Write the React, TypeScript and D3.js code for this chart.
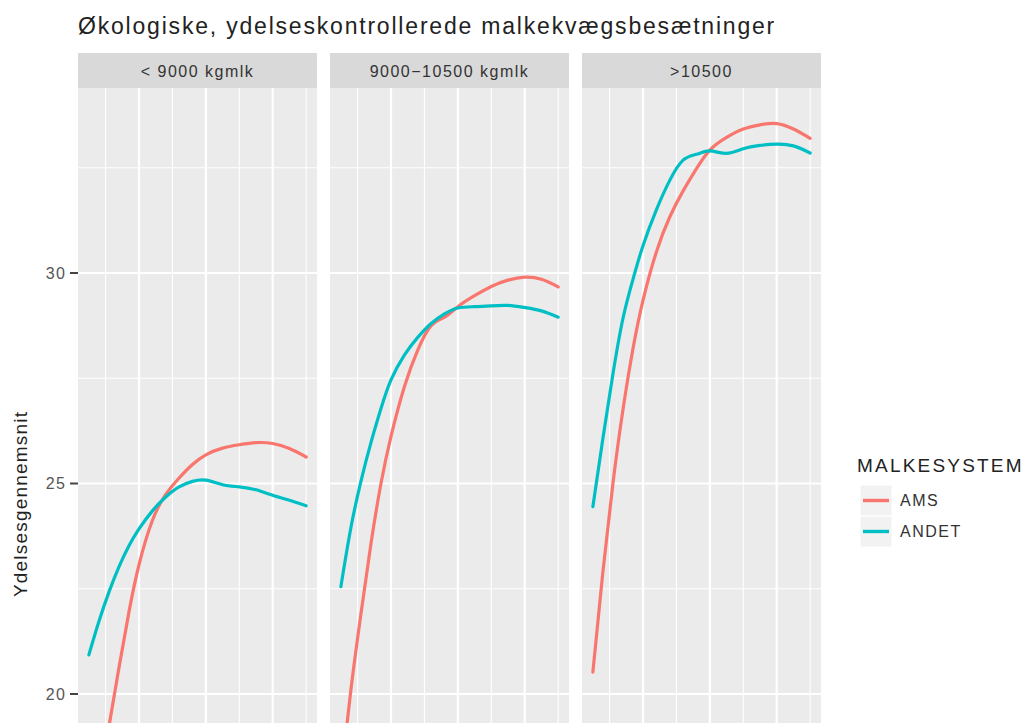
import { useEffect, useRef } from "react";
import * as d3 from "d3";

const title = "Økologiske, ydelseskontrollerede malkekvægsbesætninger";
const panels = ["< 9000 kgmlk", "9000\u221210500 kgmlk", ">10500"];
const systems = ["AMS", "ANDET"];
const colours = ["#F8766D", "#00BFC4"];

// x values along the lactation (axis itself is cut off in the picture)
const days = [25, 40, 55, 70, 85, 100, 120, 140, 160, 180, 200, 225, 250, 275, 300, 325, 350];

const amsLow = [16.3, 17.75, 19.22, 20.62, 21.95, 23.07, 24.12, 24.74, 25.13, 25.45, 25.68, 25.84, 25.92, 25.97, 25.95, 25.83, 25.63];
const andetLow = [20.93, 21.72, 22.42, 23.02, 23.52, 23.92, 24.35, 24.68, 24.92, 25.05, 25.08, 24.97, 24.92, 24.85, 24.72, 24.6, 24.47];
const amsMid = [18.0, 20.1, 21.9, 23.57, 25.0, 26.12, 27.3, 28.17, 28.75, 28.95, 29.2, 29.46, 29.68, 29.83, 29.9, 29.85, 29.67];
const andetMid = [22.55, 23.95, 25.05, 25.97, 26.78, 27.46, 28.05, 28.47, 28.8, 29.03, 29.17, 29.2, 29.22, 29.23, 29.18, 29.1, 28.95];
const amsHigh = [20.52, 22.9, 25.0, 26.75, 28.2, 29.35, 30.5, 31.33, 31.95, 32.48, 32.92, 33.22, 33.42, 33.52, 33.55, 33.42, 33.2];
const andetHigh = [24.45, 26.07, 27.6, 28.92, 29.85, 30.65, 31.5, 32.2, 32.68, 32.82, 32.9, 32.84, 32.95, 33.03, 33.06, 33.02, 32.85];

const yTicks = [20, 25, 30];
const yMinor = [17.5, 22.5, 27.5, 32.5];
const xMajor = [100, 200, 300];
const xMinor = [50, 150, 250, 350];

const font = "'Liberation Sans', Arial, sans-serif";

export default function App() {
    const ref = useRef<SVGSVGElement>(null);

    useEffect(() => {
        const svg = d3.select(ref.current);
        svg.selectAll("*").remove();

        const W = 1032, H = 723;
        const top = 88, bottom = H;

        const seriesByPanel = [
            [amsLow, andetLow],
            [amsMid, andetMid],
            [amsHigh, andetHigh],
        ];

        // facet positions
        const fx = d3.scaleBand<string>()
            .domain(panels)
            .range([78, 821])
            .paddingInner(13 / 252);
        const bw = fx.bandwidth();

        // 5% expansion like ggplot
        const [d0, d1] = d3.extent(days) as [number, number];
        const pad = (d1 - d0) * 0.05;
        const x = d3.scaleLinear().domain([d0 - pad, d1 + pad]).range([0, bw]);
        const y = d3.scaleLinear().domain([20, 30]).range([694, 273]);

        svg.append("rect").attr("width", W).attr("height", H).attr("fill", "white");

        // title
        svg.append("text")
            .attr("x", 78).attr("y", 34)
            .attr("font-family", font).attr("font-size", 23)
            .attr("letter-spacing", 1.8)
            .attr("fill", "#222")
            .text(title);

        const defs = svg.append("defs");

        panels.forEach((p, i) => {
            const g = svg.append("g").attr("transform", `translate(${fx(p)},0)`);

            defs.append("clipPath").attr("id", `clip${i}`)
                .append("rect").attr("x", 0).attr("y", top).attr("width", bw).attr("height", bottom - top);

            // strip
            g.append("rect").attr("x", 0).attr("y", 53).attr("width", bw).attr("height", top - 53).attr("fill", "#D9D9D9");
            g.append("text")
                .attr("x", bw / 2).attr("y", 77)
                .attr("text-anchor", "middle")
                .attr("font-family", font).attr("font-size", 16)
                .attr("letter-spacing", 1.5)
                .attr("fill", "#333")
                .text(p);

            // panel
            g.append("rect").attr("x", 0).attr("y", top).attr("width", bw).attr("height", bottom - top).attr("fill", "#EBEBEB");

            const grid = g.append("g").attr("clip-path", `url(#clip${i})`);
            grid.selectAll(".ymin").data(yMinor).enter().append("line")
                .attr("x1", 0).attr("x2", bw)
                .attr("y1", d => y(d)).attr("y2", d => y(d))
                .attr("stroke", "white").attr("stroke-width", 1.1);
            grid.selectAll(".xmin").data(xMinor).enter().append("line")
                .attr("x1", d => x(d)).attr("x2", d => x(d))
                .attr("y1", top).attr("y2", bottom)
                .attr("stroke", "white").attr("stroke-width", 1.1);
            grid.selectAll(".ymaj").data(yTicks).enter().append("line")
                .attr("x1", 0).attr("x2", bw)
                .attr("y1", d => y(d)).attr("y2", d => y(d))
                .attr("stroke", "white").attr("stroke-width", 2.2);
            grid.selectAll(".xmaj").data(xMajor).enter().append("line")
                .attr("x1", d => x(d)).attr("x2", d => x(d))
                .attr("y1", top).attr("y2", bottom)
                .attr("stroke", "white").attr("stroke-width", 2.2);

            const line = d3.line<number>()
                .x((d, k) => x(days[k]))
                .y(d => y(d))
                .curve(d3.curveNatural);

            seriesByPanel[i].forEach((vals, s) => {
                grid.append("path")
                    .datum(vals)
                    .attr("fill", "none")
                    .attr("stroke", colours[s])
                    .attr("stroke-width", 3.2)
                    .attr("stroke-linecap", "round")
                    .attr("d", line);
            });
        });

        // y axis
        const left = fx(panels[0]) as number;
        const yAxis = svg.append("g");
        yTicks.forEach(t => {
            yAxis.append("line")
                .attr("x1", left - 8).attr("x2", left)
                .attr("y1", y(t)).attr("y2", y(t))
                .attr("stroke", "#444").attr("stroke-width", 2);
            yAxis.append("text")
                .attr("x", left - 12).attr("y", y(t) + 5.5)
                .attr("text-anchor", "end")
                .attr("font-family", font).attr("font-size", 16)
                .attr("letter-spacing", 1.2)
                .attr("fill", "#555")
                .text(t);
        });

        svg.append("text")
            .attr("transform", "translate(27,504) rotate(-90)")
            .attr("text-anchor", "middle")
            .attr("font-family", font).attr("font-size", 19)
            .attr("letter-spacing", 1.2)
            .attr("fill", "#222")
            .text("Ydelsesgennemsnit");

        // legend
        const lg = svg.append("g");
        lg.append("text")
            .attr("x", 857).attr("y", 472)
            .attr("font-family", font).attr("font-size", 19)
            .attr("letter-spacing", 2.2)
            .attr("fill", "#222")
            .text("MALKESYSTEM");

        systems.forEach((s, k) => {
            const ky = 485 + k * 31;
            lg.append("rect")
                .attr("x", 860).attr("y", ky).attr("width", 32).attr("height", 31)
                .attr("fill", "#F2F2F2").attr("stroke", "white").attr("stroke-width", 1);
            lg.append("line")
                .attr("x1", 863).attr("x2", 889)
                .attr("y1", ky + 15.5).attr("y2", ky + 15.5)
                .attr("stroke", colours[k]).attr("stroke-width", 3.4);
            lg.append("text")
                .attr("x", 900).attr("y", ky + 21)
                .attr("font-family", font).attr("font-size", 16)
                .attr("letter-spacing", 1.5)
                .attr("fill", "#333")
                .text(s);
        });
    }, []);

    return (
        <svg ref={ref} width={1032} height={723}
            style={{ position: "absolute", left: 0, top: 0, display: "block" }} />
    );
}
